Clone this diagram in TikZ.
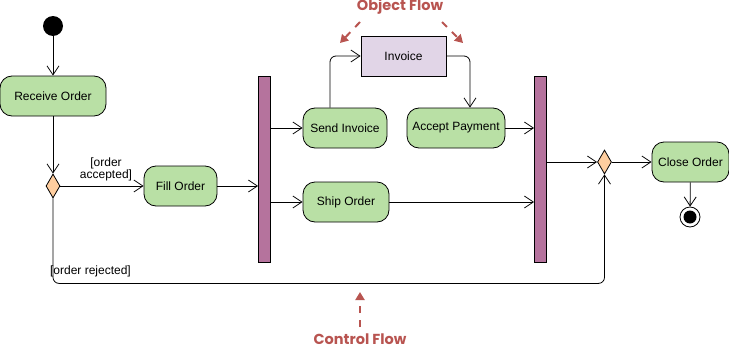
\documentclass[tikz,border=0pt]{standalone}
\usepackage{fontspec}
\setmainfont{Liberation Sans}
\newfontfamily\poppfont{Poppins}
\usetikzlibrary{arrows.meta,shapes.geometric,calc}
\definecolor{actfill}{HTML}{B9E0A5}
\definecolor{decfill}{HTML}{FFCE9F}
\definecolor{barfill}{HTML}{B5739D}
\definecolor{objfill}{HTML}{E1D5E7}
\definecolor{annot}{HTML}{B85450}
\begin{document}
\begin{tikzpicture}[x=1pt,y=-1pt,
  every node/.style={font=\fontsize{12}{14}\selectfont},
  act/.style={draw,fill=actfill,rounded corners=12pt,inner sep=0,line width=0.8pt},
  dec/.style={draw,fill=decfill,diamond,inner sep=0,minimum width=14pt,minimum height=24pt,line width=0.8pt},
  bar/.style={draw,fill=barfill,inner sep=0,minimum width=12pt,minimum height=186pt,line width=0.8pt},
  flow/.style={line width=0.8pt,-{Straight Barb[length=9pt,width=12pt]}},
  annarrow/.style={annot,line width=2pt,dash pattern=on 7pt off 7pt,-{Triangle[length=8pt,width=9pt]}},
  anntext/.style={annot,font=\poppfont\bfseries\fontsize{14.5}{16}\selectfont}
]
\useasboundingbox (0,0) rectangle (729,348);
% nodes
\node[circle,fill=black,minimum size=20pt,inner sep=0] (start) at (53,26) {};
\node[act,minimum width=106pt,minimum height=40pt] (recv) at (53,96) {Receive Order};
\node[dec] (dec1) at (53,186) {};
\node[act,minimum width=73pt,minimum height=40pt] (fill) at (180.5,186) {Fill Order};
\node[bar] (bar1) at (264.5,169) {};
\node[act,minimum width=84pt,minimum height=40pt] (send) at (345,128) {Send Invoice};
\node[act,minimum width=86pt,minimum height=40pt] (ship) at (346,202) {Ship Order};
\node[draw,fill=objfill,inner sep=0,minimum width=85pt,minimum height=40pt,line width=0.8pt] (inv) at (403.5,56) {Invoice};
\node[act,minimum width=98pt,minimum height=40pt] (acc) at (456,128) {Accept Payment};
\node[bar] (bar2) at (540.5,169) {};
\node[dec] (dec2) at (604.5,162) {};
\node[act,minimum width=77pt,minimum height=40pt] (close) at (690.5,162) {Close Order};
\node[circle,draw,fill=white,minimum size=20pt,inner sep=0,line width=0.8pt,
  path picture={\fill[black] (path picture bounding box.center) circle (6.5pt);}] (end) at (690,217) {};
% connectors
\draw[flow] (start) -- (recv);
\draw[flow] (recv) -- (dec1);
\draw[flow] (dec1.east) -- (fill.west);
\node[align=center,inner sep=0] (lacc) at (106,169) {[order\\[-2pt]accepted]};
\draw[flow] (fill.east) -- (fill.east -| bar1.west);
\draw[flow] (bar1.east |- send.west) -- (send.west);
\draw[flow] (bar1.east |- ship.west) -- (ship.west);
\draw[flow,rounded corners=6pt] ([xshift=-15pt]send.north) |- (inv.west);
\draw[flow,rounded corners=6pt] (inv.east) -| ([xshift=14pt]acc.north);
\draw[flow] (acc.east) -- (acc.east -| bar2.west);
\draw[flow] (ship.east) -- (ship.east -| bar2.west);
\draw[flow] (bar2.east |- dec2.west) -- (dec2.west);
\draw[flow] (dec2.east) -- (close.west);
\draw[flow] (close) -- (end);
\draw[flow,rounded corners=6pt] (dec1.south) -- ++(0,85) -| (dec2.south);
\node[inner sep=0] (lrej) at (90.5,271) {[order rejected]};
% annotations
\node[anntext,inner sep=0] (objt) at (400,6.5) {Object Flow};
\node[anntext,inner sep=0] (ctlt) at (360,339) {Control Flow};
\coordinate (oa1) at (360,22); \coordinate (oa1e) at (340,43);
\coordinate (oa2) at (442,22); \coordinate (oa2e) at (463,43);
\coordinate (ca) at (360,327); \coordinate (cae) at (360,292);
\draw[annarrow] (oa1) -- (oa1e);
\draw[annarrow] (oa2) -- (oa2e);
\draw[annarrow] (ca) -- (cae);
\end{tikzpicture}
\end{document}
